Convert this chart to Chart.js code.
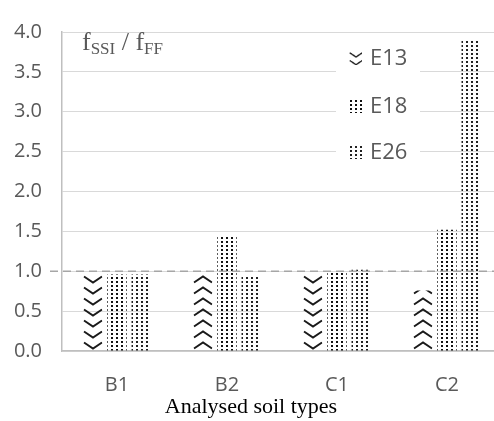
<!DOCTYPE html>
<html>
<head>
<script src="https://cdn.jsdelivr.net/npm/chart.js"></script>
<style>
  html, body { margin: 0; padding: 0; overflow: hidden; background: #fff; }
</style>
</head>
<body>
<canvas id="ratioChart" width="538" height="421"></canvas>
<script>
// soil types and f_SSI / f_FF ratios per earthquake record
const soilTypes = ['B1', 'B2', 'C1', 'C2'];
const seriesNames = ['E13', 'E18', 'E26'];
const e13 = [0.97, 0.96, 0.97, 0.76];
const e18 = [0.96, 1.43, 1.00, 1.52];
const e26 = [0.96, 0.95, 1.02, 3.89];
const refLevel = 1.0;

const catPct = 0.66;
const barPct = 0.8;

// small offscreen tiles for the hatch fills
function makeTile(w, h, draw) {
  const c = document.createElement('canvas');
  c.width = w; c.height = h;
  draw(c.getContext('2d'));
  return c;
}
const ctx0 = document.getElementById('ratioChart').getContext('2d');

const chevronDown = makeTile(20, 11, g => {
  g.strokeStyle = '#1a1a1a'; g.lineWidth = 2;
  g.beginPath(); g.moveTo(1, 2.5); g.lineTo(10, 8.5); g.lineTo(19, 2.5); g.stroke();
});
const chevronUp = makeTile(20, 11, g => {
  g.strokeStyle = '#1a1a1a'; g.lineWidth = 2;
  g.beginPath(); g.moveTo(1, 8.5); g.lineTo(10, 2.5); g.lineTo(19, 8.5); g.stroke();
});
const dotsDense = makeTile(5, 4, g => {
  g.fillStyle = '#111'; g.fillRect(1, 1, 2, 2);
});
const dotsLight = makeTile(5, 4, g => {
  g.fillStyle = '#222'; g.fillRect(1, 1, 2, 2);
});

// chevrons are anchored to each bar's left edge so every bar shows whole Vs
function chevronFill(c) {
  const tile = c.dataIndex % 2 === 0 ? chevronDown : chevronUp;
  const pat = ctx0.createPattern(tile, 'repeat');
  const xs = c.chart.scales.x, ys = c.chart.scales.y;
  if (xs && ys && c.type === 'data') {
    const cat = xs.width / soilTypes.length;
    const slot = cat * catPct / 3;
    const left = xs.getPixelForValue(c.dataIndex) - slot - slot * barPct / 2;
    pat.setTransform(new DOMMatrix().translate(Math.round(left), Math.round(ys.getPixelForValue(0))));
  }
  return pat;
}

const patterns = [
  chevronFill,
  ctx0.createPattern(dotsDense, 'repeat'),
  ctx0.createPattern(dotsLight, 'repeat')
];

const extras = {
  id: 'extras',
  afterDatasetsDraw(chart) {
    const g = chart.ctx, y = chart.scales.y.getPixelForValue(refLevel);
    g.save();
    g.strokeStyle = '#a6a6a6';
    g.lineWidth = 1.5;
    g.setLineDash([8, 5]);
    g.beginPath(); g.moveTo(50, y); g.lineTo(chart.width, y); g.stroke();
    g.restore();
  },
  afterDraw(chart) {
    const g = chart.ctx;
    g.save();
    // y quantity label
    g.fillStyle = '#595959';
    g.textBaseline = 'alphabetic';
    let x = 82;
    const big = '26px "Liberation Serif"', small = '17px "Liberation Serif"';
    g.font = big; g.fillText('f', x, 50); x += g.measureText('f').width;
    g.font = small; g.fillText('SSI', x, 54); x += g.measureText('SSI').width;
    g.font = big; g.fillText(' / f', x, 50); x += g.measureText(' / f').width;
    g.font = small; g.fillText('FF', x, 54);

    // legend box
    g.fillStyle = '#fff';
    g.fillRect(336, 36, 84, 136);
    const rows = [58, 106, 152];
    const fills = [chevronDown, dotsDense, dotsLight];
    seriesNames.forEach((name, i) => {
      const p = g.createPattern(fills[i], 'repeat');
      p.setTransform(new DOMMatrix().translate(349, rows[i] - 7).scale(i === 0 ? 0.7 : 1, i === 0 ? 0.7 : 1));
      g.fillStyle = p;
      g.fillRect(349, rows[i] - 7, 13, 14);
      g.fillStyle = '#595959';
      g.font = '22px "Open Sans"';
      g.textBaseline = 'middle';
      g.fillText(name, 370, rows[i] + 1);
    });
    g.restore();
  }
};

new Chart(ctx0, {
  type: 'bar',
  data: {
    labels: soilTypes,
    datasets: [e13, e18, e26].map((vals, i) => ({
      label: seriesNames[i],
      data: vals,
      backgroundColor: patterns[i],
      borderWidth: 0,
      categoryPercentage: catPct,
      barPercentage: barPct
    }))
  },
  options: {
    responsive: false,
    animation: false,
    layout: { padding: { top: 19, right: 36, bottom: 0, left: 0 } },
    plugins: {
      legend: { display: false },
      tooltip: { enabled: false },
      title: {
        display: true,
        position: 'bottom',
        text: 'Analysed soil types',
        color: '#000',
        font: { family: 'Liberation Serif', size: 22, weight: 'normal' },
        padding: { top: 2, bottom: 1 }
      }
    },
    scales: {
      x: {
        grid: { display: false, drawTicks: false },
        border: { color: '#bfbfbf', width: 1.5 },
        ticks: { color: '#595959', font: { family: 'Open Sans', size: 20 }, padding: 22 },
        afterFit(s) { s.height = 40.6; }
      },
      y: {
        min: 0,
        max: 4,
        grid: { color: '#d9d9d9', lineWidth: 1, drawTicks: false },
        border: { color: '#bfbfbf', width: 1.5 },
        ticks: {
          stepSize: 0.5,
          color: '#595959',
          font: { family: 'Open Sans', size: 20 },
          padding: 20,
          callback: v => v.toFixed(1)
        },
        afterFit(s) { s.width = 62; }
      }
    }
  },
  plugins: [extras]
});
</script>
</body>
</html>
